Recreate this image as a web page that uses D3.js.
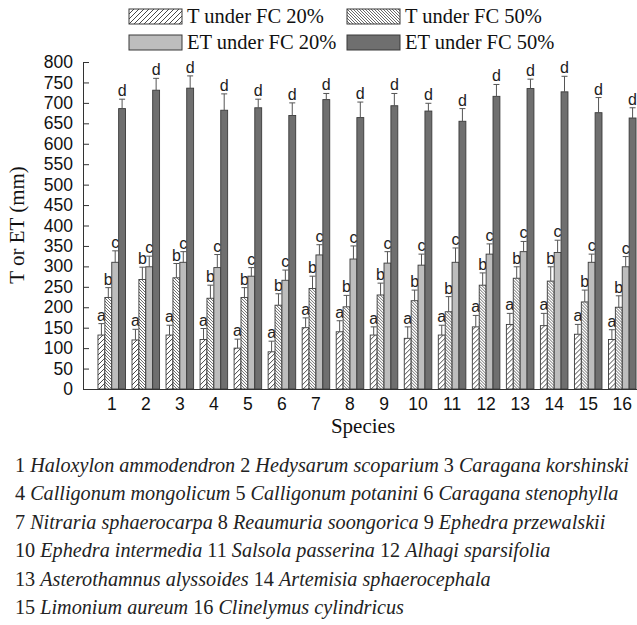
<!DOCTYPE html>
<head>
  <meta charset="utf-8">
  <script src="https://d3js.org/d3.v7.min.js"></script>
  <style>
    body { margin:0; background:#fff; }
    svg { display:block; }
    .tick text { font-family: "Liberation Sans", Arial, sans-serif; }
  </style>
</head>
<body>
<div></div>
<script>

  // data
  var species = ["1","2","3","4","5","6","7","8","9","10","11","12","13","14","15","16"];
  var seriesNames = ["T under FC 20%", "T under FC 50%", "ET under FC 20%", "ET under FC 50%"];
  var letters = ["a", "b", "c", "d"];

  var t20 =    [132,120,132,121,100, 91,150,140,132,124,132,152,158,155,134,121];
  var t20Err = [ 28, 26, 24, 27, 22, 26, 24, 27, 20, 28, 24, 28, 27, 30, 24, 24];
  var t50 =    [224,268,272,222,224,205,246,201,230,216,189,254,271,264,213,200];
  var t50Err = [ 24, 30, 35, 32, 24, 28, 30, 28, 29, 26, 37, 30, 28, 35, 29, 28];
  var et20 =   [310,299,310,297,276,266,328,318,308,303,310,330,336,334,310,299];
  var et20Err =[ 28, 26, 26, 32, 21, 25, 25, 32, 28, 27, 35, 25, 25, 30, 20, 25];
  var et50 =   [686,731,736,682,688,669,708,664,693,680,655,716,735,727,676,663];
  var et50Err =[ 23, 29, 30, 40, 21, 31, 15, 38, 30, 19, 31, 29, 23, 38, 37, 25];

  var yTicks = d3.range(0, 801, 50);

  var speciesNames = ["Haloxylon ammodendron","Hedysarum scoparium","Caragana korshinski",
    "Calligonum mongolicum","Calligonum potanini","Caragana stenophylla",
    "Nitraria sphaerocarpa","Reaumuria soongorica","Ephedra przewalskii",
    "Ephedra intermedia","Salsola passerina","Alhagi sparsifolia",
    "Asterothamnus alyssoides","Artemisia sphaerocephala",
    "Limonium aureum","Clinelymus cylindricus"];
  var footerRows = [[0,1,2],[3,4,5],[6,7,8],[9,10,11],[12,13],[14,15]];

  var values = [t20, t50, et20, et50];
  var errors = [t20Err, t50Err, et20Err, et50Err];

  var width = 637, height = 625;
  var serif = '"Liberation Serif", "Times New Roman", serif';
  var sans = '"Liberation Sans", Arial, sans-serif';

  var svg = d3.select("div").append("svg")
    .attr("width", width)
    .attr("height", height);

  // fills: two hatches and two greys
  var defs = svg.append("defs");
  var p1 = defs.append("pattern").attr("id", "h20")
    .attr("patternUnits", "userSpaceOnUse").attr("width", 5).attr("height", 5);
  p1.append("rect").attr("width", 5).attr("height", 5).attr("fill", "#fff");
  p1.append("path").attr("d", "M-1,1 l2,-2 M0,5 l5,-5 M4,6 l2,-2")
    .attr("stroke", "#333").attr("stroke-width", 0.9);
  var p2 = defs.append("pattern").attr("id", "h50")
    .attr("patternUnits", "userSpaceOnUse").attr("width", 3).attr("height", 3);
  p2.append("rect").attr("width", 3).attr("height", 3).attr("fill", "#fff");
  p2.append("path").attr("d", "M-1,2 l2,2 M0,0 l3,3 M2,-1 l2,2")
    .attr("stroke", "#444").attr("stroke-width", 0.8);

  var fills = ["url(#h20)", "url(#h50)", "#bdbdbd", "#6f6f6f"];

  // scales
  var x = d3.scaleBand().domain(species)
    .range([83, 651]).paddingInner(0.19).paddingOuter(0.44);
  var x1 = d3.scaleBand().domain(d3.range(4))
    .range([0, x.bandwidth()]);
  var y = d3.scaleLinear().domain([0, 800]).range([389, 62]);

  // axes
  var yAxis = d3.axisLeft(y).tickValues(yTicks)
    .tickSizeInner(-6).tickSizeOuter(0).tickPadding(10);
  var gy = svg.append("g").attr("transform", "translate(83,0)").call(yAxis);
  gy.selectAll("text").attr("font-size", 17.5).attr("fill", "#111");

  // bars
  var groups = svg.selectAll(".grp").data(species).enter()
    .append("g").attr("class", "grp")
    .attr("transform", function(d) { return "translate(" + x(d) + ",0)"; });

  values.forEach(function(vals, s) {
    groups.append("rect")
      .attr("x", x1(s))
      .attr("y", function(d, i) { return y(vals[i]); })
      .attr("width", x1.bandwidth())
      .attr("height", function(d, i) { return y(0) - y(vals[i]); })
      .attr("fill", fills[s])
      .attr("stroke", "#3a3a3a")
      .attr("stroke-width", 0.9);

    // upper error whisker + cap
    var cx = x1(s) + x1.bandwidth() / 2;
    groups.append("path")
      .attr("d", function(d, i) {
        var top = y(vals[i] + errors[s][i]);
        return "M" + cx + "," + y(vals[i]) + "V" + top + "M" + (cx - 3) + "," + top + "H" + (cx + 3);
      })
      .attr("stroke", "#555").attr("stroke-width", 1).attr("fill", "none");

    groups.append("text")
      .attr("x", cx)
      .attr("y", function(d, i) { return y(vals[i] + errors[s][i]) - 3; })
      .attr("text-anchor", "middle")
      .attr("font-family", sans).attr("font-size", 16)
      .attr("fill", "#222")
      .text(letters[s]);
  });

  var xAxis = d3.axisBottom(x).tickSize(0).tickPadding(9);
  var gx = svg.append("g").attr("transform", "translate(0,389)").call(xAxis);
  gx.selectAll("text").attr("font-size", 17.5).attr("fill", "#111");
  gx.select(".domain").attr("stroke", "#333");
  gy.select(".domain").attr("stroke", "#333");
  gy.selectAll(".tick line").attr("stroke", "#333");

  // axis titles
  svg.append("text")
    .attr("transform", "translate(24,225) rotate(-90)")
    .attr("text-anchor", "middle")
    .attr("font-family", serif).attr("font-size", 21)
    .attr("fill", "#111")
    .text("T or ET (mm)");

  svg.append("text")
    .attr("x", 363).attr("y", 433)
    .attr("text-anchor", "middle")
    .attr("font-family", serif).attr("font-size", 21)
    .attr("fill", "#111")
    .text("Species");

  // legend, two rows by two columns
  var legend = svg.selectAll(".legend").data(seriesNames).enter()
    .append("g").attr("class", "legend")
    .attr("transform", function(d, i) {
      var col = i % 2, row = Math.floor(i / 2);
      return "translate(" + (col ? 347 : 129) + "," + (row ? 35 : 9) + ")";
    });
  legend.append("rect")
    .attr("width", 53).attr("height", 15)
    .attr("fill", function(d, i) { return fills[i]; })
    .attr("stroke", "#3a3a3a").attr("stroke-width", 1);
  legend.append("text")
    .attr("x", 58).attr("y", 14)
    .attr("font-family", serif).attr("font-size", 20.5)
    .attr("fill", "#111")
    .text(function(d) { return d; });

  // species key under the chart
  var foot = svg.selectAll(".foot").data(footerRows).enter()
    .append("text").attr("class", "foot")
    .attr("x", 15)
    .attr("y", function(d, i) { return 472 + i * 28.4; })
    .attr("font-family", serif).attr("font-size", 20.2)
    .attr("fill", "#222");
  foot.each(function(row) {
    var t = d3.select(this);
    row.forEach(function(k, j) {
      t.append("tspan").text((j ? " " : "") + species[k] + " ");
      t.append("tspan").attr("font-style", "italic").text(speciesNames[k]);
    });
  });

</script>
</body>
